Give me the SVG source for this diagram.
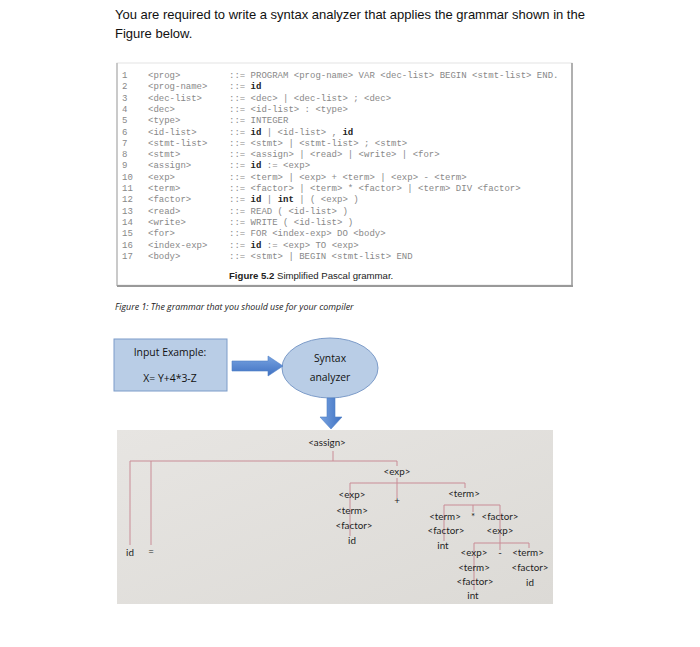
<svg xmlns="http://www.w3.org/2000/svg" width="700" height="647" viewBox="0 0 700 647">
<defs>
<style>
.title{font-family:"Liberation Sans",Arial,sans-serif;font-size:13px;fill:#111}
.g{font-family:"Liberation Mono","Courier New",monospace;font-size:9px;fill:#888;white-space:pre}
.b{font-weight:bold;fill:#222}
.cap{font-family:"Liberation Sans",Arial,sans-serif;font-size:9.6px;fill:#222}
.fig{font-family:"Open Sans","Liberation Sans",sans-serif;font-size:8.9px;font-style:italic;fill:#222}
.bx{font-family:"Open Sans","Liberation Sans",sans-serif;font-size:10.4px;fill:#111;text-anchor:middle}
.t{font-family:Lato,"Open Sans",sans-serif;font-size:9.8px;fill:#1e1e1e;text-anchor:middle}
.ln{stroke:#c98c96;stroke-width:1;fill:none}
.shape{fill:#b9cde6;stroke:#7d9cc9;stroke-width:1}
</style>
<linearGradient id="pan" x1="0" y1="0" x2="1" y2="1">
<stop offset="0" stop-color="#e7e5e2"/>
<stop offset="1" stop-color="#dcdad6"/>
</linearGradient>
<linearGradient id="arr" x1="0" y1="0" x2="0" y2="1">
<stop offset="0" stop-color="#78a3e0"/>
<stop offset="1" stop-color="#3f71c2"/>
</linearGradient>
<linearGradient id="arrv" x1="0" y1="0" x2="1" y2="0">
<stop offset="0" stop-color="#78a3e0"/>
<stop offset="1" stop-color="#3f71c2"/>
</linearGradient>
</defs>
<rect width="700" height="647" fill="#fff"/>
<g id="heading">
<text class="title" x="115" y="19">You are required to write a syntax analyzer that applies the grammar shown in the</text>
<text class="title" x="115" y="38">Figure below.</text>
</g>
<g id="grammar-figure">
<rect x="117" y="63" width="455" height="222" fill="#fff" stroke="#e4e4e4"/>
<line x1="117" y1="63" x2="117" y2="286" stroke="#bdbdbd" stroke-width="1.5"/>
<line x1="572" y1="63" x2="572" y2="286" stroke="#9a9a9a" stroke-width="1.5"/>
<line x1="117" y1="286" x2="573" y2="286" stroke="#999" stroke-width="2"/>
<g class="g">
<text class="g" x="122" y="78">1</text>
<text class="g" x="122" y="89.3">2</text>
<text class="g" x="122" y="100.6">3</text>
<text class="g" x="122" y="111.9">4</text>
<text class="g" x="122" y="123.2">5</text>
<text class="g" x="122" y="134.5">6</text>
<text class="g" x="122" y="145.8">7</text>
<text class="g" x="122" y="157.1">8</text>
<text class="g" x="122" y="168.4">9</text>
<text class="g" x="122" y="179.7">10</text>
<text class="g" x="122" y="191">11</text>
<text class="g" x="122" y="202.3">12</text>
<text class="g" x="122" y="213.6">13</text>
<text class="g" x="122" y="224.9">14</text>
<text class="g" x="122" y="236.2">15</text>
<text class="g" x="122" y="247.5">16</text>
<text class="g" x="122" y="258.8">17</text>
</g>
<text class="g" x="148" y="78">&lt;prog&gt;</text>
<text class="g" x="148" y="89.3">&lt;prog-name&gt;</text>
<text class="g" x="148" y="100.6">&lt;dec-list&gt;</text>
<text class="g" x="148" y="111.9">&lt;dec&gt;</text>
<text class="g" x="148" y="123.2">&lt;type&gt;</text>
<text class="g" x="148" y="134.5">&lt;id-list&gt;</text>
<text class="g" x="148" y="145.8">&lt;stmt-list&gt;</text>
<text class="g" x="148" y="157.1">&lt;stmt&gt;</text>
<text class="g" x="148" y="168.4">&lt;assign&gt;</text>
<text class="g" x="148" y="179.7">&lt;exp&gt;</text>
<text class="g" x="148" y="191">&lt;term&gt;</text>
<text class="g" x="148" y="202.3">&lt;factor&gt;</text>
<text class="g" x="148" y="213.6">&lt;read&gt;</text>
<text class="g" x="148" y="224.9">&lt;write&gt;</text>
<text class="g" x="148" y="236.2">&lt;for&gt;</text>
<text class="g" x="148" y="247.5">&lt;index-exp&gt;</text>
<text class="g" x="148" y="258.8">&lt;body&gt;</text>
<text class="g" x="229" y="78">::= PROGRAM &lt;prog-name&gt; VAR &lt;dec-list&gt; BEGIN &lt;stmt-list&gt; END.</text>
<text class="g" x="229" y="89.3">::= <tspan class="b">id</tspan></text>
<text class="g" x="229" y="100.6">::= &lt;dec&gt; | &lt;dec-list&gt; ; &lt;dec&gt;</text>
<text class="g" x="229" y="111.9">::= &lt;id-list&gt; : &lt;type&gt;</text>
<text class="g" x="229" y="123.2">::= INTEGER</text>
<text class="g" x="229" y="134.5">::= <tspan class="b">id</tspan> | &lt;id-list&gt; , <tspan class="b">id</tspan></text>
<text class="g" x="229" y="145.8">::= &lt;stmt&gt; | &lt;stmt-list&gt; ; &lt;stmt&gt;</text>
<text class="g" x="229" y="157.1">::= &lt;assign&gt; | &lt;read&gt; | &lt;write&gt; | &lt;for&gt;</text>
<text class="g" x="229" y="168.4">::= <tspan class="b">id</tspan> := &lt;exp&gt;</text>
<text class="g" x="229" y="179.7">::= &lt;term&gt; | &lt;exp&gt; + &lt;term&gt; | &lt;exp&gt; - &lt;term&gt;</text>
<text class="g" x="229" y="191">::= &lt;factor&gt; | &lt;term&gt; * &lt;factor&gt; | &lt;term&gt; DIV &lt;factor&gt;</text>
<text class="g" x="229" y="202.3">::= <tspan class="b">id</tspan> | <tspan class="b">int</tspan> | ( &lt;exp&gt; )</text>
<text class="g" x="229" y="213.6">::= READ ( &lt;id-list&gt; )</text>
<text class="g" x="229" y="224.9">::= WRITE ( &lt;id-list&gt; )</text>
<text class="g" x="229" y="236.2">::= FOR &lt;index-exp&gt; DO &lt;body&gt;</text>
<text class="g" x="229" y="247.5">::= <tspan class="b">id</tspan> := &lt;exp&gt; TO &lt;exp&gt;</text>
<text class="g" x="229" y="258.8">::= &lt;stmt&gt; | BEGIN &lt;stmt-list&gt; END</text>
<text class="cap" x="229" y="279"><tspan font-weight="bold">Figure 5.2</tspan>  Simplified Pascal grammar.</text>
</g>
<g id="figure-caption">
<text class="fig" x="115" y="310">Figure 1: The grammar that you should use for your compiler</text>
</g>
<g id="input-example">
<rect class="shape" x="114" y="339" width="113" height="52"/>
<text class="bx" x="170" y="356">Input Example:</text>
<text class="bx" x="170" y="382">X= Y+4*3-Z</text>
</g>
<g id="syntax-analyzer">
<ellipse class="shape" cx="330" cy="368" rx="48" ry="30"/>
<text class="bx" x="330" y="362">Syntax</text>
<text class="bx" x="330" y="381">analyzer</text>
</g>
<g id="arrows">
<path d="M232,361 H268 V356 L283,366 L268,376 V371 H232 Z" fill="url(#arr)" stroke="#4f7fc8" stroke-width="0.6"/>
</g>
<g id="parse-tree">
<rect x="117" y="430" width="436" height="174" fill="url(#pan)"/>
<g id="tree-connectors">
<path class="ln" d="M333,451 V461 M130,461 H397 M130,461 V545 M151,461 V545 M397,461 V466 M397,478 V498 M350,483 H465 M350,483 V536 M465,483 V488 M444,505 H500 M444,505 V541 M473,505 V512 M500,505 V550 M474,543 H529 M474,543 V590 M529,543 V548"/>
</g>
<g id="tree-labels">
<text class="t" x="327" y="446">&lt;assign&gt;</text>
<text class="t" x="397" y="475">&lt;exp&gt;</text>
<text class="t" x="397" y="504">+</text>
<text class="t" x="352" y="498">&lt;exp&gt;</text>
<text class="t" x="352" y="514">&lt;term&gt;</text>
<text class="t" x="354" y="529">&lt;factor&gt;</text>
<text class="t" x="352" y="544">id</text>
<text class="t" x="464" y="497">&lt;term&gt;</text>
<text class="t" x="445" y="520">&lt;term&gt;</text>
<text class="t" x="473" y="520">*</text>
<text class="t" x="500" y="520">&lt;factor&gt;</text>
<text class="t" x="446" y="534">&lt;factor&gt;</text>
<text class="t" x="500" y="534">&lt;exp&gt;</text>
<text class="t" x="443" y="549">int</text>
<text class="t" x="474" y="556">&lt;exp&gt;</text>
<text class="t" x="500" y="556">-</text>
<text class="t" x="528" y="556">&lt;term&gt;</text>
<text class="t" x="474" y="571">&lt;term&gt;</text>
<text class="t" x="530" y="571">&lt;factor&gt;</text>
<text class="t" x="475" y="585">&lt;factor&gt;</text>
<text class="t" x="530" y="586">id</text>
<text class="t" x="473" y="599">int</text>
<text class="t" x="130" y="556">id</text>
<text class="t" x="151" y="555">=</text>
</g>
</g>
<g id="down-arrow">
<path d="M327,398 H335 V417 H342 L331,429 L320,417 H327 Z" fill="url(#arrv)" stroke="#4f7fc8" stroke-width="0.6"/>
</g>
</svg>
